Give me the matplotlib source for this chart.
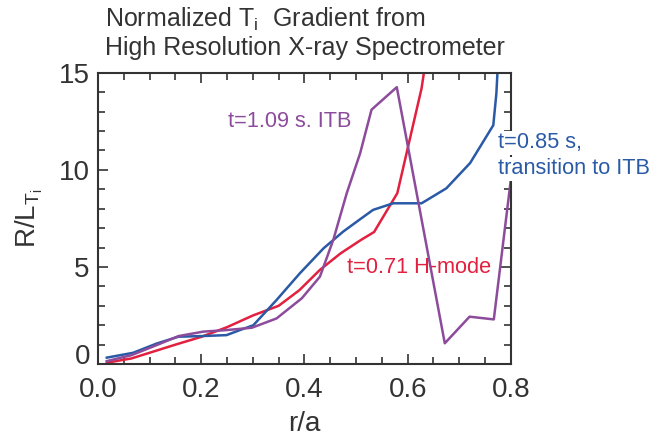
import matplotlib
matplotlib.use('Agg')
import matplotlib.pyplot as plt
from matplotlib.ticker import MultipleLocator, FixedFormatter

plt.rcParams['font.family'] = ['Liberation Sans', 'DejaVu Sans']
plt.rcParams['mathtext.fontset'] = 'custom'
plt.rcParams['mathtext.rm'] = 'Liberation Sans'

# t=0.71 s, H-mode
x_red = [0.017, 0.065, 0.15, 0.2, 0.25, 0.3, 0.35, 0.39, 0.43, 0.47, 0.51, 0.535, 0.58, 0.627, 0.64]
y_red = [0.07, 0.29, 1.0, 1.4, 1.9, 2.5, 3.0, 3.8, 4.85, 5.7, 6.4, 6.8, 8.8, 14.2, 16.5]

# t=0.85 s, transition to ITB
x_blue = [0.017, 0.068, 0.114, 0.156, 0.2, 0.249, 0.275, 0.301, 0.346, 0.391, 0.437, 0.475,
          0.508, 0.533, 0.572, 0.627, 0.675, 0.721, 0.766, 0.772, 0.776]
y_blue = [0.33, 0.58, 1.06, 1.41, 1.44, 1.49, 1.75, 2.0, 3.3, 4.67, 5.96, 6.82,
          7.46, 7.94, 8.28, 8.28, 9.05, 10.35, 12.3, 13.95, 16.0]

# t=1.09 s, ITB
x_purple = [0.017, 0.065, 0.114, 0.156, 0.204, 0.249, 0.298, 0.346, 0.395, 0.43, 0.456,
            0.482, 0.508, 0.53, 0.579, 0.672, 0.72, 0.767, 0.8]
y_purple = [0.15, 0.46, 0.98, 1.44, 1.67, 1.75, 1.87, 2.35, 3.39, 4.5, 6.4,
            8.8, 10.86, 13.1, 14.26, 1.07, 2.44, 2.3, 9.5]

xticks = [0, 0.2, 0.4, 0.6, 0.8]
xtick_labels = ['0.0', '0.2', '0.4', '0.6', '0.8']
yticks = [0, 5, 10, 15]
ytick_labels = ['', '5', '10', '15']  # the "0" sits a bit higher, drawn separately

red = '#e2203f'
blue = '#2a5aa6'
purple = '#8d4b9c'
dark = '#333333'

fig = plt.figure(figsize=(6.6, 4.36), dpi=100)
ax = fig.add_axes([0.1485, 0.165, 0.6255, 0.668])

ax.plot(x_red, y_red, color=red, lw=1.8)
ax.plot(x_blue, y_blue, color=blue, lw=1.8)
ax.plot(x_purple, y_purple, color=purple, lw=1.8)

ax.set_xlim(0, 0.8)
ax.set_ylim(0, 15)
ax.set_xticks(xticks)
ax.set_xticklabels(xtick_labels)
ax.set_yticks(yticks)
ax.set_yticklabels(ytick_labels)
ax.xaxis.set_minor_locator(MultipleLocator(0.05))
ax.yaxis.set_minor_locator(MultipleLocator(1))
ax.tick_params(which='both', direction='in', top=True, right=True, color=dark,
               labelsize=20, labelcolor=dark, width=1.2)
ax.tick_params(which='major', length=7)
ax.tick_params(axis='y', which='major', pad=6)
ax.tick_params(axis='x', which='major', pad=9)
ax.tick_params(which='minor', length=5)
for s in ax.spines.values():
    s.set_color(dark)
    s.set_linewidth(1.5)

ax.annotate('0', xy=(0, 0), xycoords='axes fraction', xytext=(-8, 7),
            textcoords='offset pixels', ha='right', va='center',
            fontsize=20, color=dark)

ax.set_xlabel('r/a', fontsize=20, color=dark, labelpad=6)
ax.set_ylabel(r'R/L$_{\mathregular{T_i}}$', fontsize=20, color=dark, labelpad=10)

ax.text(0.252, 12.5, 't=1.09 s. ITB', color=purple, fontsize=15.7, va='center')
ax.text(0.483, 4.95, 't=0.71 H-mode', color=red, fontsize=15.7, va='center')
ax.text(0.775, 11.4, 't=0.85 s,', color=blue, fontsize=15.7, va='center', clip_on=False,
        bbox=dict(facecolor='white', edgecolor='none', pad=1), zorder=5)
ax.text(0.775, 10.05, 'transition to ITB', color=blue, fontsize=15.7, va='center',
        clip_on=False, bbox=dict(facecolor='white', edgecolor='none', pad=1), zorder=5)

fig.text(0.159, 0.938, r'Normalized T$_{\mathregular{i}}$  Gradient from', fontsize=18,
         color=dark, va='baseline')
fig.text(0.159, 0.874, 'High Resolution X-ray Spectrometer', fontsize=18,
         color=dark, va='baseline')

fig.savefig('out.png', dpi=100)
